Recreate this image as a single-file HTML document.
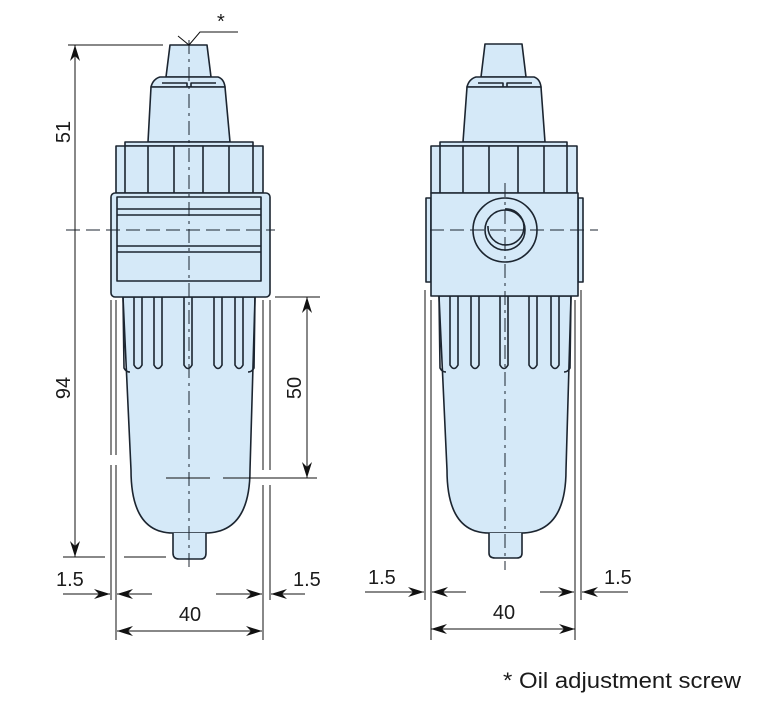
<!DOCTYPE html>
<html><head><meta charset="utf-8"><style>
html,body{margin:0;padding:0;background:#fff;}
svg{display:block;}
text{font-family:"Liberation Sans",sans-serif;fill:#1a1a1a;}
</style></head><body>
<svg width="764" height="708" viewBox="0 0 764 708" xmlns="http://www.w3.org/2000/svg">
<defs>
<marker id="a" markerWidth="17" markerHeight="11" refX="16" refY="5.5" orient="auto" markerUnits="userSpaceOnUse">
<path d="M0,0.5 L16,5.5 L0,10.5 L5,5.5 Z" fill="#111"/></marker>
</defs>

<!-- LEFT VIEW -->
<g stroke="#1c2530" stroke-width="1.6" fill="#d5e9f8" stroke-linejoin="round">
  <path d="M123,297 L255,297 L250,470 Q250,533 205,533 L173,533 Q131,533 131,470 Z"/>
  <path d="M173,533 L173,553 Q173,559 179,559 L201,559 Q206,559 206,553 L206,533"/>
  <path d="M123,297 L124,368 Q126,372 130,372 M255,297 L254,368 Q252,372 248,372" fill="none"/>
  <g fill="none">
    <path d="M134,297 L134,365 Q138,372 142,365 L142,297"/>
    <path d="M154,297 L154,365 Q158,372 162,365 L162,297"/>
    <path d="M184,297 L184,365 Q188,372 192,365 L192,297"/>
    <path d="M214,297 L214,365 Q218,372 222,365 L222,297"/>
    <path d="M235,297 L235,365 Q239,372 243,365 L243,297"/>
  </g>
  <path d="M170,45 L207,45 L211,77 L166,77 Z"/>
  <path d="M160,77 L218,77 Q224,79 225,87 L151,87 Q153,79 160,77 Z"/>
  <path d="M151,87 L225,87 L230,142 L148,142 Z"/>
  <path d="M162,83 L187,83 L187,87 M191,87 L191,83 L216,83" fill="none"/>
  <rect x="125" y="142" width="128" height="4"/>
  <rect x="116" y="146" width="147" height="47"/>
  <path d="M125,146V193 M148,146V193 M174,146V193 M203,146V193 M229,146V193 M253,146V193" fill="none"/>
  <rect x="111" y="193" width="159" height="104" rx="4"/>
  <rect x="117" y="197" width="144" height="84"/>
  <path d="M117,209H261 M117,215H261 M117,246H261 M117,252H261" fill="none"/>
</g>
<g stroke="#1c2530" stroke-width="1" fill="none" stroke-dasharray="14,5,3,5">
  <path d="M189,40 V570"/>
</g>
<path d="M66,230 H275" stroke="#1c2530" stroke-width="1" stroke-dasharray="14,6"/>
<path d="M178,36 L189,45 L200,32 L238,32" stroke="#111" stroke-width="1" fill="none"/>
<text x="217" y="28" font-size="20">*</text>
<g stroke="#111" stroke-width="1" fill="none">
  <path d="M68,45 H163"/>
  <path d="M63,557 H105 M124,557 H166"/>
  <path d="M111,300 V455 M111,465 V600 M116,300 V455 M116,465 V640"/>
  <path d="M263,300 V470 M263,485 V640 M270,300 V470 M270,485 V600"/>
  <path d="M275,297 H320"/>
  <path d="M166,478 H210 M223,478 H317"/>
  <path d="M75,230 V45" marker-end="url(#a)"/>
  <path d="M75,230 V557" marker-end="url(#a)"/>
  <path d="M307,387 V297" marker-end="url(#a)"/>
  <path d="M307,387 V478" marker-end="url(#a)"/>
  <path d="M63,594 H110" marker-end="url(#a)"/>
  <path d="M152,594 H117" marker-end="url(#a)"/>
  <path d="M216,594 H262" marker-end="url(#a)"/>
  <path d="M305,594 H271" marker-end="url(#a)"/>
  <path d="M190,631 H117" marker-end="url(#a)"/>
  <path d="M190,631 H262" marker-end="url(#a)"/>
</g>
<text x="70" y="132" font-size="20" transform="rotate(-90 70 132)" text-anchor="middle">51</text>
<text x="70" y="388" font-size="20" transform="rotate(-90 70 388)" text-anchor="middle">94</text>
<text x="301" y="388" font-size="20" transform="rotate(-90 301 388)" text-anchor="middle">50</text>
<text x="56" y="586" font-size="20">1.5</text>
<text x="293" y="586" font-size="20">1.5</text>
<text x="190" y="621" font-size="20" text-anchor="middle">40</text>

<!-- RIGHT VIEW -->
<g stroke="#1c2530" stroke-width="1.6" fill="#d5e9f8" stroke-linejoin="round">
  <path d="M439,296 L571,296 L566,470 Q566,533 521,533 L489,533 Q447,533 447,470 Z"/>
  <path d="M489,533 L489,553 Q489,558 495,558 L517,558 Q522,558 522,553 L522,533"/>
  <path d="M439,296 L440,368 Q442,372 446,372 M571,296 L570,368 Q568,372 564,372" fill="none"/>
  <g fill="none">
    <path d="M450,296 L450,365 Q454,372 458,365 L458,296"/>
    <path d="M471,296 L471,365 Q475,372 479,365 L479,296"/>
    <path d="M500,296 L500,365 Q504,372 508,365 L508,296"/>
    <path d="M529,296 L529,365 Q533,372 537,365 L537,296"/>
    <path d="M551,296 L551,365 Q555,372 559,365 L559,296"/>
  </g>
  <path d="M485,44 L522,44 L526,77 L481,77 Z"/>
  <path d="M476,77 L534,77 Q540,79 541,87 L467,87 Q469,79 476,77 Z"/>
  <path d="M467,87 L541,87 L545,142 L463,142 Z"/>
  <path d="M478,83 L503,83 L503,87 M507,87 L507,83 L532,83" fill="none"/>
  <rect x="440" y="142" width="127" height="4"/>
  <rect x="431" y="146" width="146" height="47"/>
  <path d="M440,146V193 M463,146V193 M489,146V193 M518,146V193 M544,146V193 M567,146V193" fill="none"/>
  <path d="M426,198 H431 V282 H426 Z"/>
  <path d="M578,198 H583 V282 H578 Z"/>
  <rect x="431" y="193" width="147" height="103"/>
  <circle cx="505" cy="230" r="32" fill="none"/>
  <circle cx="505" cy="230" r="20" fill="none"/>
  <path d="M488,226 A18,18 0 1,0 505,209" fill="none"/>
</g>
<g stroke="#1c2530" stroke-width="1" fill="none">
  <path d="M505,183 V570" stroke-dasharray="14,5,3,5"/>
  <path d="M430,230 H598" stroke-dasharray="14,6"/>
</g>
<g stroke="#111" stroke-width="1" fill="none">
  <path d="M425,290 V600 M431,300 V640 M575,300 V640 M581,290 V600"/>
  <path d="M365,592 H424" marker-end="url(#a)"/>
  <path d="M466,592 H432" marker-end="url(#a)"/>
  <path d="M540,592 H574" marker-end="url(#a)"/>
  <path d="M628,592 H582" marker-end="url(#a)"/>
  <path d="M504,629 H431" marker-end="url(#a)"/>
  <path d="M504,629 H575" marker-end="url(#a)"/>
</g>
<text x="368" y="584" font-size="20">1.5</text>
<text x="604" y="584" font-size="20">1.5</text>
<text x="504" y="619" font-size="20" text-anchor="middle">40</text>

<text x="503" y="688" font-size="22" textLength="238" lengthAdjust="spacingAndGlyphs">* Oil adjustment screw</text>
</svg>
</body></html>
